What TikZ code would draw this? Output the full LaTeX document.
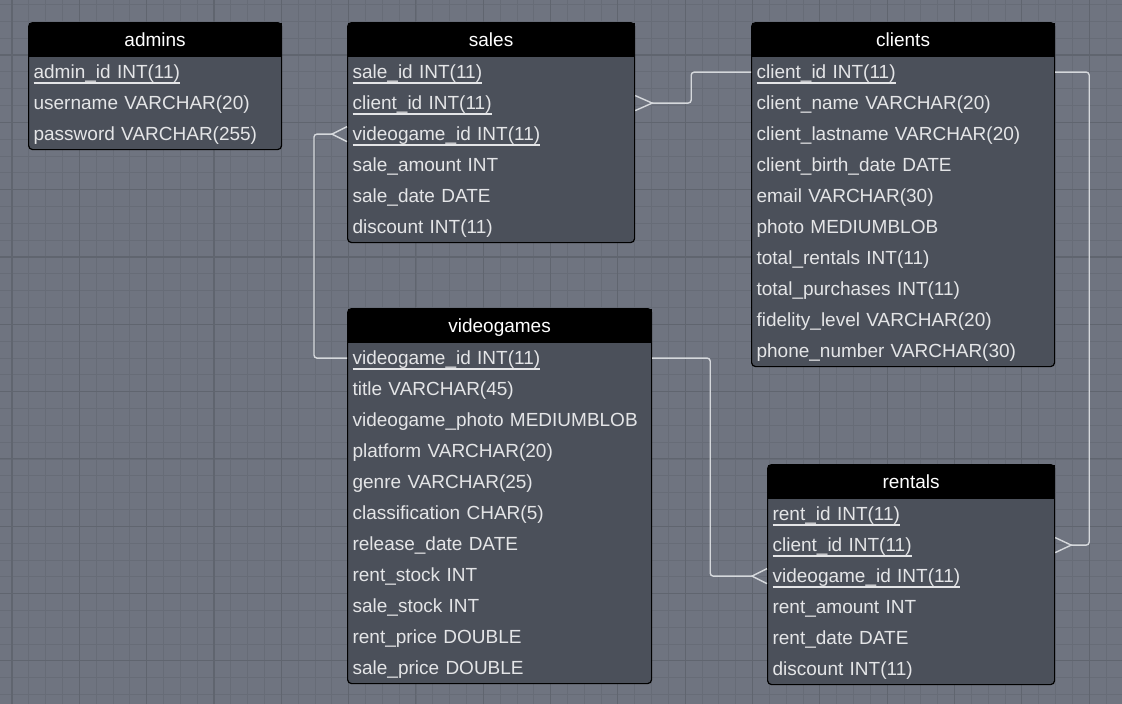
\documentclass[tikz,border=0pt]{standalone}
\usepackage{fontspec}
\setmainfont{Liberation Sans}
\usepackage{tikz}
\usetikzlibrary{matrix}
\definecolor{canvas}{HTML}{6F7480}
\definecolor{minorgrid}{HTML}{676C77}
\definecolor{majorgrid}{HTML}{60656F}
\definecolor{tablebody}{HTML}{4B505A}
\definecolor{fieldtext}{HTML}{E4E5E7}
\definecolor{relline}{HTML}{D5D8DC}
\newcommand{\pkey}[1]{\setbox0\hbox{#1}\rlap{\vrule width\wd0 height -3.6pt depth 5pt}\box0}
\tikzset{
  table/.style={matrix of nodes, anchor=north west, fill=tablebody, draw=black, line width=1.2pt,
    rounded corners=4pt, inner sep=0pt, row sep=0pt,
    nodes={text width=#1, inner xsep=5pt, inner ysep=0pt, minimum height=31pt, text height=17pt,
      text depth=4pt, align=left, text=fieldtext, sharp corners, font=\fontsize{19pt}{22pt}\selectfont},
    row 1/.style={nodes={fill=black, text=white, align=center, minimum height=34pt}}},
  rel/.style={draw=relline, line width=1.4pt, rounded corners=3pt},
  foot/.style={rel, sharp corners}
}

\begin{document}
\begin{tikzpicture}[x=1pt, y=-1pt]
\fill[canvas] (0,0) rectangle (1122,704);
\useasboundingbox (0,0) rectangle (1122,704);
\begin{scope}[shift={(12,55)}]
\draw[minorgrid, line width=0.8pt, step=16.83pt] (-12,649) grid (1110,-55);
\draw[majorgrid, line width=1.1pt, step=67.32pt] (-12,649) grid (1110,-55);
\end{scope}

\matrix (admins) [table=243pt] at (28,22) {
admins \\
\pkey{admin\_id INT(11)} \\
username VARCHAR(20) \\
password VARCHAR(255) \\
};
\matrix (sales) [table=277pt] at (347,22) {
sales \\
\pkey{sale\_id INT(11)} \\
\pkey{client\_id INT(11)} \\
\pkey{videogame\_id INT(11)} \\
sale\_amount INT \\
sale\_date DATE \\
discount INT(11) \\
};
\matrix (clients) [table=293pt] at (751,22) {
clients \\
\pkey{client\_id INT(11)} \\
client\_name VARCHAR(20) \\
client\_lastname VARCHAR(20) \\
client\_birth\_date DATE \\
email VARCHAR(30) \\
photo MEDIUMBLOB \\
total\_rentals INT(11) \\
total\_purchases INT(11) \\
fidelity\_level VARCHAR(20) \\
phone\_number VARCHAR(30) \\
};
\matrix (videogames) [table=294pt] at (347,308) {
videogames \\
\pkey{videogame\_id INT(11)} \\
title VARCHAR(45) \\
videogame\_photo MEDIUMBLOB \\
platform VARCHAR(20) \\
genre VARCHAR(25) \\
classification CHAR(5) \\
release\_date DATE \\
rent\_stock INT \\
sale\_stock INT \\
rent\_price DOUBLE \\
sale\_price DOUBLE \\
};
\matrix (rentals) [table=277pt] at (767,464) {
rentals \\
\pkey{rent\_id INT(11)} \\
\pkey{client\_id INT(11)} \\
\pkey{videogame\_id INT(11)} \\
rent\_amount INT \\
rent\_date DATE \\
discount INT(11) \\
};

% sales -- clients
\draw[foot] ([yshift=7.5pt]sales-3-1.east) -- ([xshift=17pt]sales-3-1.east) -- ([yshift=-7.5pt]sales-3-1.east);
\draw[rel] ([xshift=17pt]sales-3-1.east) -- ++(39,0) |- (clients-2-1.west);
% sales -- videogames
\draw[foot] ([yshift=7.5pt]sales-4-1.west) -- ([xshift=-15pt]sales-4-1.west) -- ([yshift=-7.5pt]sales-4-1.west);
\draw[rel] ([xshift=-15pt]sales-4-1.west) -- ++(-18,0) |- (videogames-2-1.west);
% rentals -- videogames
\draw[foot] ([yshift=7.5pt]rentals-4-1.west) -- ([xshift=-15pt]rentals-4-1.west) -- ([yshift=-7.5pt]rentals-4-1.west);
\draw[rel] (videogames-2-1.east) -- ++(58,0) |- ([xshift=-15pt]rentals-4-1.west);
% rentals -- clients
\draw[foot] ([yshift=7.5pt]rentals-3-1.east) -- ([xshift=16pt]rentals-3-1.east) -- ([yshift=-7.5pt]rentals-3-1.east);
\draw[rel] (clients-2-1.east) -- ++(34,0) |- ([xshift=16pt]rentals-3-1.east);
\end{tikzpicture}
\end{document}
